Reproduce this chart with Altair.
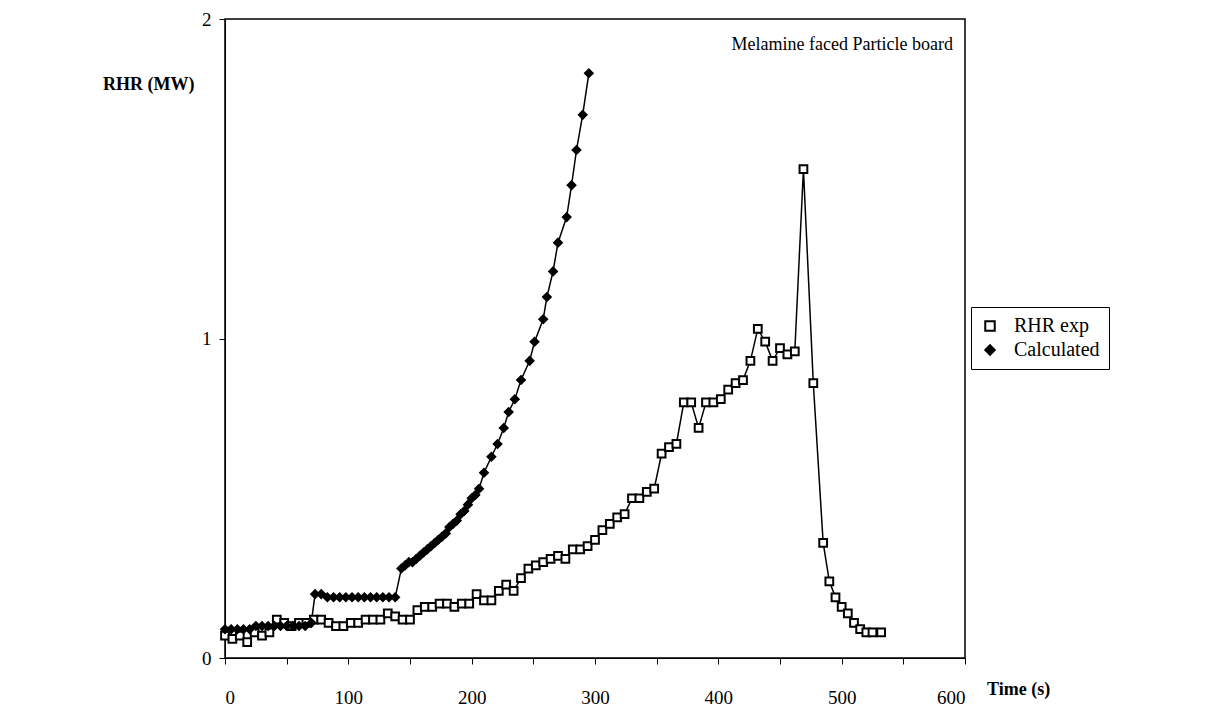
import pandas as pd
import altair as alt

exp_t = [0, 6, 12, 18, 24, 30, 36, 42, 48, 54, 60, 66, 72, 78, 84, 90, 96, 102, 108, 114,
         120, 126, 132, 138, 144, 150, 156, 162, 168, 174, 180, 186, 192, 198, 204, 210, 216,
         222, 228, 234, 240, 246, 252, 258, 264, 270, 276, 282, 288, 294, 300, 306, 312, 318,
         324, 330, 336, 342, 348, 354, 360, 366, 372, 378, 384, 390, 396, 402, 408, 414, 420,
         426, 432, 438, 444, 450, 456, 462, 469, 477, 485, 490, 495, 500, 505, 510, 515, 520,
         525, 532]
exp_v = [0.07, 0.06, 0.07, 0.05, 0.08, 0.07, 0.08, 0.12, 0.11, 0.10, 0.11, 0.11, 0.12, 0.12,
         0.11, 0.10, 0.10, 0.11, 0.11, 0.12, 0.12, 0.12, 0.14, 0.13, 0.12, 0.12, 0.15, 0.16,
         0.16, 0.17, 0.17, 0.16, 0.17, 0.17, 0.20, 0.18, 0.18, 0.21, 0.23, 0.21, 0.25, 0.28,
         0.29, 0.30, 0.31, 0.32, 0.31, 0.34, 0.34, 0.35, 0.37, 0.40, 0.42, 0.44, 0.45, 0.50,
         0.50, 0.52, 0.53, 0.64, 0.66, 0.67, 0.80, 0.80, 0.72, 0.80, 0.80, 0.81, 0.84, 0.86,
         0.87, 0.93, 1.03, 0.99, 0.93, 0.97, 0.95, 0.96, 1.53, 0.86, 0.36, 0.24, 0.19, 0.16,
         0.14, 0.11, 0.09, 0.08, 0.08, 0.08]

calc_t = [0, 5, 10, 15, 20, 25, 30, 35, 40, 45, 50, 55, 60, 65, 70, 73, 78, 83, 88, 93, 98,
          103, 108, 113, 118, 123, 128, 133, 138, 143, 146, 149, 152, 155, 158, 161, 164, 167,
          170, 173, 176, 179, 182, 185, 188, 191, 194, 197, 200, 203, 206, 210, 216, 221, 226,
          230, 235, 240, 247, 251, 258, 261, 266, 270, 277, 281, 285, 290, 295]
calc_v = [0.09, 0.09, 0.09, 0.09, 0.09, 0.10, 0.10, 0.10, 0.10, 0.10, 0.10, 0.10, 0.10, 0.10,
          0.11, 0.20, 0.20, 0.19, 0.19, 0.19, 0.19, 0.19, 0.19, 0.19, 0.19, 0.19, 0.19, 0.19,
          0.19, 0.28, 0.29, 0.30, 0.30, 0.31, 0.32, 0.33, 0.34, 0.35, 0.36, 0.37, 0.38, 0.39,
          0.41, 0.42, 0.43, 0.45, 0.46, 0.48, 0.50, 0.51, 0.53, 0.58, 0.63, 0.67, 0.72, 0.77,
          0.81, 0.87, 0.93, 0.99, 1.06, 1.13, 1.21, 1.30, 1.38, 1.48, 1.59, 1.70, 1.83]

y_ticks = [0.0, 1.0, 2.0]

df = pd.concat([
    pd.DataFrame({"t": exp_t, "v": exp_v, "series": "RHR exp"}),
    pd.DataFrame({"t": calc_t, "v": calc_v, "series": "Calculated"}),
])

FONT = "Liberation Serif"
dom = ["RHR exp", "Calculated"]

x = alt.X("t:Q", scale=alt.Scale(domain=[0, 600], nice=False),
          axis=alt.Axis(values=list(range(0, 601, 50)), title=None, format="d",
                        labelExpr="datum.value % 100 == 0 ? datum.label : ''",
                        labelPadding=24, labelFontSize=19, grid=False, labelOverlap=False,
                        tickSize=6, domainColor="black", tickColor="black"))
y = alt.Y("v:Q", scale=alt.Scale(domain=[0, 2], nice=False),
          axis=alt.Axis(values=y_ticks, title=None, labelFontSize=19, grid=False,
                        labelExpr="format(datum.value, 'd')",
                        labelOverlap=False, labelPadding=8, tickSize=6,
                        domainColor="black", tickColor="black"))

base = alt.Chart(df)
lines = base.mark_line(color="black", strokeWidth=1.5).encode(x=x, y=y, detail="series:N")
pts = base.mark_point(opacity=1, strokeWidth=2, size=60).encode(
    x=x, y=y,
    shape=alt.Shape("series:N", scale=alt.Scale(domain=dom, range=["square", "diamond"]),
                    legend=alt.Legend(title=None, orient="none", legendX=746, legendY=288,
                                      labelFont=FONT, labelFontSize=20, labelColor="black",
                                      strokeColor="black", padding=9, symbolSize=90,
                                      symbolStrokeWidth=2, rowPadding=4, labelOffset=14)),
    fill=alt.Fill("series:N", scale=alt.Scale(domain=dom, range=["white", "black"]), legend=None),
    stroke=alt.Stroke("series:N", scale=alt.Scale(domain=dom, range=["black", "black"]), legend=None),
)

note = alt.Chart(pd.DataFrame({"txt": ["Melamine faced Particle board"]})).mark_text(
    font=FONT, fontSize=18, align="right", color="black").encode(
    x=alt.value(728), y=alt.value(26), text="txt:N")
ylab = alt.Chart(pd.DataFrame({"txt": ["RHR (MW)"]})).mark_text(
    font=FONT, fontSize=18, fontWeight="bold", align="left", color="black").encode(
    x=alt.value(-122), y=alt.value(66), text="txt:N")
xlab = alt.Chart(pd.DataFrame({"txt": ["Time (s)"]})).mark_text(
    font=FONT, fontSize=18, fontWeight="bold", align="left", color="black").encode(
    x=alt.value(762), y=alt.value(671), text="txt:N")

chart = (lines + pts + note + ylab + xlab).properties(
    width=740, height=639,
    autosize=alt.AutoSizeParams(type="none"),
    padding={"left": 217, "top": 11, "right": 240, "bottom": 60},
).configure_view(stroke="black", strokeWidth=1.5).configure_axis(
    labelFont=FONT, labelColor="black")

chart.save("out.html", embed_options={"renderer": "svg", "actions": False})
